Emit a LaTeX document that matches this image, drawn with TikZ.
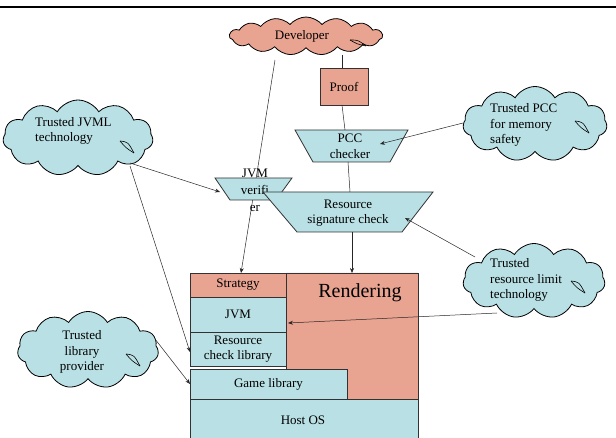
\documentclass[tikz,border=0pt]{standalone}
\usepackage{fontspec}
\setmainfont{Liberation Serif}
\usetikzlibrary{shapes.symbols,arrows.meta,calc}
\definecolor{cblue}{RGB}{185,224,228}
\definecolor{csalmon}{RGB}{233,163,145}
\definecolor{cedge}{RGB}{50,50,50}
\begin{document}
\begin{tikzpicture}[x=1pt,y=-1pt,
  every node/.style={font=\fontsize{13}{15.5}\selectfont, text=black},
  cloudb/.style={cloud, cloud puffs=11, cloud puff arc=118, cloud ignores aspect, draw=black, line width=0.8pt, inner sep=0pt, outer sep=0pt},
  box/.style={rectangle, draw=cedge, line width=0.8pt, inner sep=0pt, outer sep=0pt},
  trap/.style={draw=cedge, line width=0.8pt, fill=cblue},
  conn/.style={draw=black!85, line width=0.5pt},
  arr/.style={conn, -{Stealth[length=5pt,width=4pt]}},
  txt/.style={inner sep=0pt, align=center},
  ltxt/.style={inner sep=0pt, align=left, anchor=west},
  curl/.style={draw=black, line width=0.6pt},
]
\useasboundingbox (0,0) rectangle (616,438);
\draw[line width=1.2pt] (0,7) -- (616,7);

% clouds
\node[cloudb, cloud puffs=15, cloud puff arc=100, fill=csalmon, minimum width=153pt, minimum height=38pt] (dev) at (306,36) {};
\node[txt] (devt) at (302,36) {Developer};
\node[cloudb, fill=cblue, minimum width=150pt, minimum height=76pt] (jvml) at (78,138) {};
\node[ltxt] (jvmlt) at (35,131) {Trusted JVML\\technology};
\node[cloudb, fill=cblue, minimum width=144pt, minimum height=75pt] (pccc) at (535,124) {};
\node[ltxt] (pccct) at (490,125) {Trusted PCC\\for memory\\safety};
\node[cloudb, fill=cblue, minimum width=142pt, minimum height=75pt] (rlc) at (534,281) {};
\node[ltxt] (rlct) at (490,280) {Trusted\\resource limit\\technology};
\node[cloudb, fill=cblue, minimum width=141pt, minimum height=77pt] (libc) at (88,350) {};
\node[txt] (libct) at (82,352) {Trusted\\library\\provider};

% small curls inside the clouds
\foreach \cx/\cy in {127/147, 582/127, 578/287, 133/360} {
  \draw[curl] (\cx-7,\cy-6) .. controls (\cx+1,\cy-5) .. (\cx+7,\cy+6);
  \draw[curl] (\cx-7,\cy-6) .. controls (\cx-1,\cy+1) .. (\cx+7,\cy+6);
}
\draw[curl] (350,40) .. controls (358,40) .. (366,46);
\draw[curl] (350,40) .. controls (357,44) .. (366,46);

% stack
\draw[box, fill=csalmon] (286,273) -- (418,273) -- (418,399) -- (347,399) -- (347,369) -- (286,369) -- cycle;
\node[txt, font=\fontsize{20}{24}\selectfont] (rend) at (360,293) {Rendering};
\node[box, fill=csalmon, minimum width=96pt, minimum height=24pt] (strat) at (238,285) {Strategy};
\node[box, fill=cblue, minimum width=96pt, minimum height=35pt] (jvm) at (238,314.5) {JVM};
\node[box, fill=cblue, minimum width=96pt, minimum height=34pt, align=center] (rcl) at (238,349) {Resource\\check library};
\node[box, fill=cblue, minimum width=157pt, minimum height=30pt] (gl) at (268.5,384) {Game library};
\node[box, fill=cblue, minimum width=228pt, minimum height=50pt, anchor=north west] (host) at (190,399) {};
\node[txt] (hostt) at (303,420) {Host OS};

% proof and PCC checker
\node[box, fill=csalmon, minimum width=48pt, minimum height=37pt] (proof) at (344,86.5) {Proof};
\draw[trap] (295,130) -- (408,130) -- (390,162) -- (313,162) -- cycle;
\node[txt] (pcc) at (350,146.5) {PCC\\checker};

% developer -> strategy (behind the verifier)
\coordinate (devs) at (275,60);
\draw[arr] (devs) -- ($(strat.north)+(3,0)$);

% JVM verifier
\draw[trap] (215,178) -- (292,178) -- (276,200) -- (230,200) -- cycle;
\node[txt, font=\fontsize{13}{17}\selectfont] (ver) at (255,190) {JVM\\verifi\\er};

% resource signature check
\draw[trap] (263,192) -- (433,192) -- (402,232) -- (297,232) -- cycle;
\node[txt] (rs) at (348,213) {Resource\\signature check};

% connector end points
\coordinate (devp) at (342,55);
\coordinate (pcct) at (345,130);
\coordinate (pccb) at (348,162);
\coordinate (rst) at (350,192);
\coordinate (rsb) at (352,232);
\coordinate (rendt) at (352,273);
\coordinate (jvmlA) at (130,163);
\coordinate (jvmlB) at (130,166);
\coordinate (verL) at (220,192);
\coordinate (pcccL) at (463,123);
\coordinate (pccR) at (380,144);
\coordinate (rlcA) at (475,257);
\coordinate (rsR) at (405,218);
\coordinate (rlcB) at (497,313);
\coordinate (libcR) at (155,339);

\draw[conn] (devp) -- (devp |- proof.north);
\draw[conn] ($(proof.south)+(-2,0)$) -- (pcct);
\draw[conn] (pccb) -- (rst);
\draw[arr] (rsb) -- (rendt);
\draw[arr] (jvmlA) -- (verL);
\draw[arr] (jvmlB) -- ($(rcl.west)+(0,3)$);
\draw[arr] (pcccL) -- (pccR);
\draw[arr] (rlcA) -- (rsR);
\draw[arr] (rlcB) -- ($(jvm.east)+(2,8.5)$);
\draw[arr] (libcR) -- (gl.west);
\end{tikzpicture}
\end{document}
